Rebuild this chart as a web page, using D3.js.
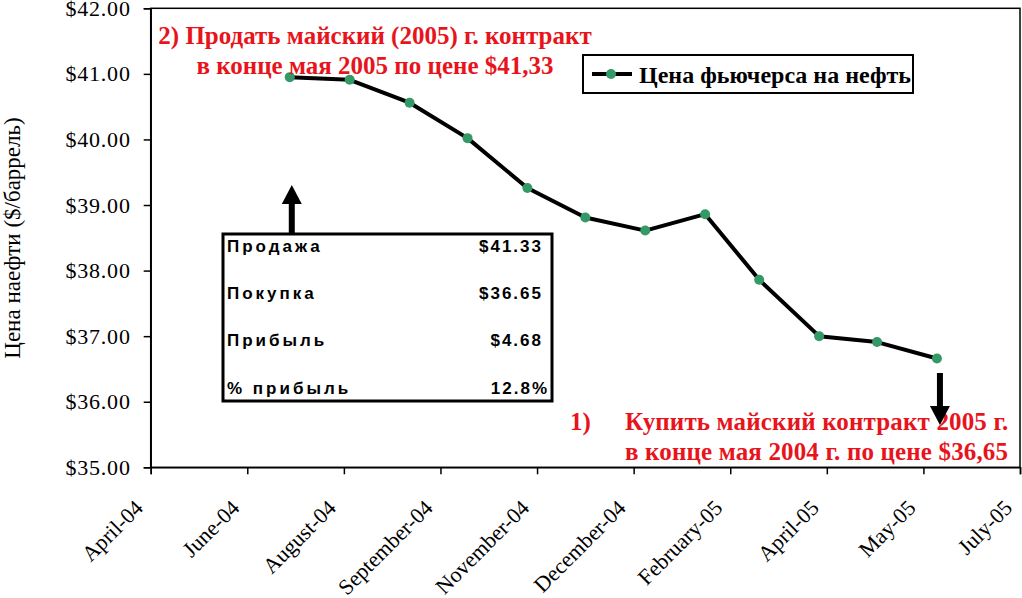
<!DOCTYPE html>
<html>
<head>
<meta charset="utf-8">
<script src="https://cdn.jsdelivr.net/npm/d3@7"></script>
<style>
  body { margin: 0; background: #fff; }
  svg { display: block; }
  .serif { font-family: "Liberation Serif", "Times New Roman", serif; }
  .sans { font-family: "Liberation Sans", Arial, sans-serif; }
</style>
</head>
<body>
<div id="chart"></div>
<script>
// Monthly oil futures prices (May 2005 contract)
const obsDates = ['2004-07-05', '2004-08-05', '2004-09-05', '2004-10-05', '2004-11-05', '2004-12-05',
  '2005-01-05', '2005-02-05', '2005-03-05', '2005-04-05', '2005-05-05', '2005-06-05'];
const prices = [40.95, 40.91, 40.56, 40.02, 39.26, 38.81, 38.61, 38.86, 37.86, 37.00, 36.91, 36.66];

const tickLabels = ['April-04', 'June-04', 'August-04', 'September-04', 'November-04',
  'December-04', 'February-05', 'April-05', 'May-05', 'July-05'];
const yTicks = [35, 36, 37, 38, 39, 40, 41, 42];

const seriesName = 'Цена фьючерса на нефть';
const yTitle = 'Цена наефти ($/баррель)';
const sellNote = ['2) Продать майский (2005) г. контракт', 'в конце мая 2005 по цене $41,33'];
const buyNote = ['Купить майский контракт 2005 г.', 'в конце мая 2004 г. по цене $36,65'];
const tableRows = ['Продажа', 'Покупка', 'Прибыль', '% прибыль'];
const tableValues = ['$41.33', '$36.65', '$4.68', '12.8%'];

const W = 1022, H = 598;
const plotL = 150.7, plotR = 1020, plotT = 8.3, plotB = 467.3;
const red = '#e8141c', green = '#339966';

const parse = d3.timeParse('%Y-%m-%d');
const data = obsDates.map((d, i) => ({ date: parse(d), price: prices[i] }));

const start = parse('2004-04-24');
const tickDates = tickLabels.map((_, i) => d3.timeDay.offset(start, 50 * i));

const x = d3.scaleTime()
  .domain([tickDates[0], tickDates[tickDates.length - 1]])
  .range([plotL, plotR]);
const y = d3.scaleLinear().domain([35, 42]).range([plotB, plotT]);

const svg = d3.select('#chart').append('svg')
  .attr('width', W)
  .attr('height', H);

// plot frame
svg.append('rect')
  .attr('x', plotL).attr('y', plotT)
  .attr('width', plotR - plotL).attr('height', plotB - plotT)
  .attr('fill', 'none').attr('stroke', '#000').attr('stroke-width', 1.5);

// y axis
const yAxis = svg.append('g')
  .attr('transform', 'translate(' + plotL + ',0)')
  .call(d3.axisLeft(y).tickValues(yTicks).tickSize(7).tickPadding(13).tickFormat(d3.format('$.2f')));
yAxis.select('.domain').attr('stroke-width', 1.5);
yAxis.selectAll('.tick line').attr('stroke-width', 1.5);
yAxis.selectAll('text')
  .style('font-family', '"Liberation Serif", serif')
  .style('font-size', '22px').style('letter-spacing', '0.8px')
  .attr('fill', '#000');

// x axis
const xAxis = svg.append('g')
  .attr('transform', 'translate(0,' + plotB + ')')
  .call(d3.axisBottom(x).tickValues(tickDates).tickSize(7).tickFormat((d, i) => tickLabels[i]));
xAxis.select('.domain').attr('stroke-width', 1.5);
xAxis.selectAll('.tick line').attr('stroke-width', 1.5);
xAxis.selectAll('text')
  .style('font-family', '"Liberation Serif", serif')
  .style('font-size', '22px')
  .attr('fill', '#000')
  .attr('text-anchor', 'end')
  .attr('y', 0).attr('dy', 0)
  .attr('transform', 'translate(-7,42) rotate(-45)');

// y title
svg.append('text')
  .attr('class', 'serif')
  .attr('transform', 'translate(20,238) rotate(-90)')
  .attr('text-anchor', 'middle')
  .style('font-size', '23px')
  .text(yTitle);

// series line + markers
const line = d3.line().x(d => x(d.date)).y(d => y(d.price));
svg.append('path')
  .datum(data)
  .attr('d', line)
  .attr('fill', 'none').attr('stroke', '#000').attr('stroke-width', 4)
  .attr('stroke-linejoin', 'round');
svg.append('g').selectAll('circle')
  .data(data).enter().append('circle')
  .attr('cx', d => x(d.date)).attr('cy', d => y(d.price))
  .attr('r', 5).attr('fill', green);

// legend
const lg = svg.append('g').attr('transform', 'translate(583,55)');
lg.append('rect').attr('width', 330).attr('height', 38)
  .attr('fill', '#fff').attr('stroke', '#000').attr('stroke-width', 2);
lg.append('line').attr('x1', 9).attr('x2', 49).attr('y1', 19).attr('y2', 19)
  .attr('stroke', '#000').attr('stroke-width', 4);
lg.append('circle').attr('cx', 28).attr('cy', 19).attr('r', 5).attr('fill', green);
lg.append('text').attr('class', 'serif').attr('x', 56).attr('y', 28)
  .style('font-size', '24px').style('font-weight', 'bold')
  .text(seriesName);

// sell annotation (top)
svg.append('g').selectAll('text')
  .data(sellNote).enter().append('text')
  .attr('class', 'serif')
  .attr('x', 375).attr('y', (d, i) => 43.5 + i * 30)
  .attr('text-anchor', 'middle')
  .style('font-size', '25px').style('font-weight', 'bold')
  .attr('fill', red)
  .text(d => d);

// buy annotation (bottom right)
const bn = svg.append('g');
bn.append('text').attr('class', 'serif').attr('x', 570).attr('y', 430)
  .style('font-size', '25px').style('font-weight', 'bold')
  .attr('fill', red).text('1)');
bn.selectAll('text.ln')
  .data(buyNote).enter().append('text')
  .attr('class', 'ln serif')
  .attr('x', 625).attr('y', (d, i) => 430 + i * 30)
  .style('font-size', '25px').style('font-weight', 'bold')
  .style('letter-spacing', '0.15px')
  .attr('fill', red)
  .text(d => d);

// arrows
function arrow(cx, y0, y1) {
  const dir = y1 < y0 ? -1 : 1;
  const hb = y1 - dir * 19;
  const g = svg.append('g');
  g.append('line').attr('x1', cx).attr('x2', cx).attr('y1', y0).attr('y2', hb)
    .attr('stroke', '#000').attr('stroke-width', 6);
  g.append('path')
    .attr('d', 'M' + (cx - 10) + ',' + hb + 'L' + (cx + 10) + ',' + hb + 'L' + cx + ',' + y1 + 'Z')
    .attr('fill', '#000');
}
arrow(x(data[0].date) + 2, 235, 185);
arrow(x(data[data.length - 1].date) + 3, 373, 425);

// summary table
const tb = svg.append('g');
tb.append('rect').attr('x', 223).attr('y', 234).attr('width', 329).attr('height', 167)
  .attr('fill', '#fff').attr('stroke', '#000').attr('stroke-width', 3);
tb.selectAll('text.k')
  .data(tableRows).enter().append('text')
  .attr('class', 'k sans')
  .attr('x', 227).attr('y', (d, i) => 252 + i * 47.2)
  .style('font-size', '17px').style('font-weight', 'bold')
  .style('letter-spacing', '3px')
  .text(d => d);
tb.selectAll('text.v')
  .data(tableValues).enter().append('text')
  .attr('class', 'v sans')
  .attr('x', (d, i) => i === 3 ? 549 : 543).attr('y', (d, i) => 252 + i * 47.2)
  .attr('text-anchor', 'end')
  .style('font-size', '17px').style('font-weight', 'bold')
  .style('letter-spacing', '2px')
  .text(d => d);
</script>
</body>
</html>
